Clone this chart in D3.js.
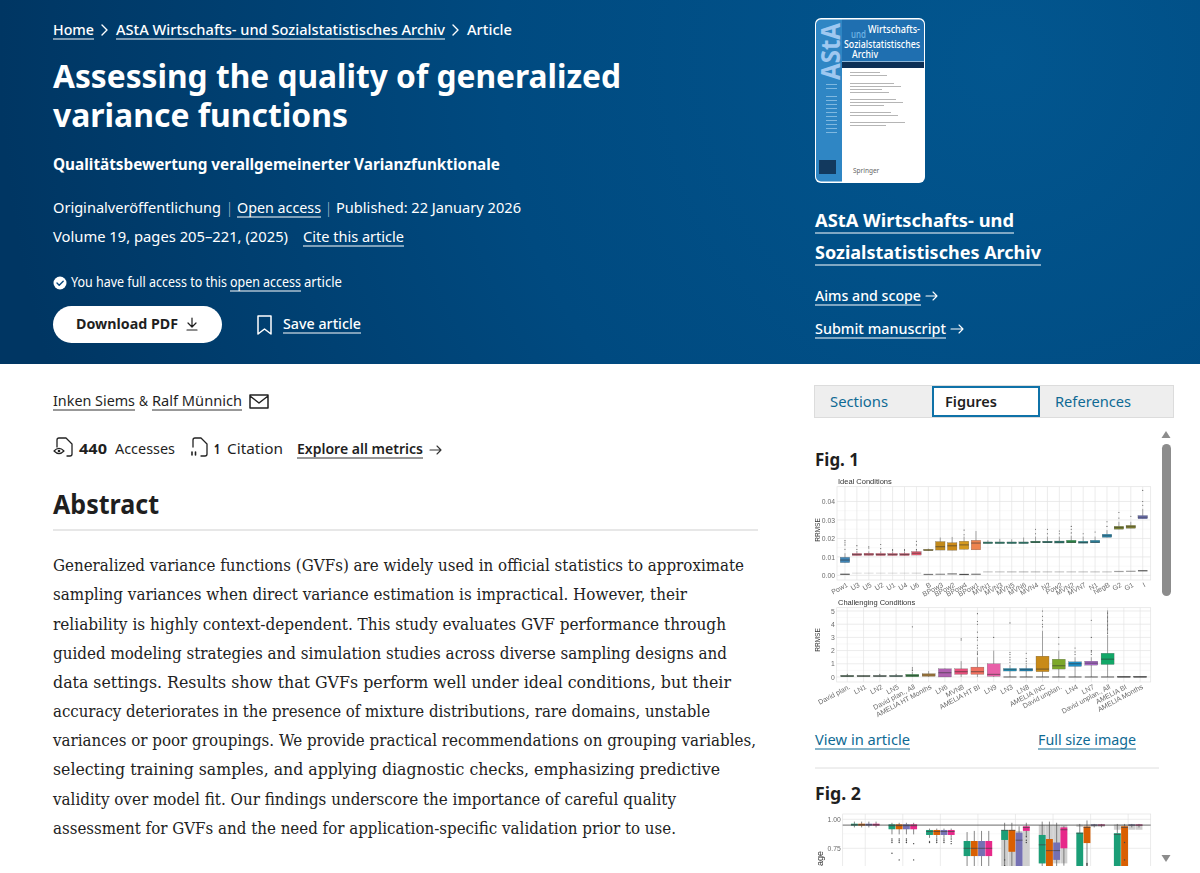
<!DOCTYPE html>
<html>
<head>
<meta charset="utf-8">
<script src="https://cdn.jsdelivr.net/npm/d3@7"></script>
<style>
  html, body { margin: 0; padding: 0; background: #fff; overflow: hidden; }
  svg { display: block; }
  .sans { font-family: "Noto Sans", "Open Sans", sans-serif; }
  .serif { font-family: "DejaVu Serif", "Liberation Serif", serif; }
  .plot text { font-family: "Liberation Sans", Arial, sans-serif; }
  .plot { filter: blur(0.35px); }
</style>
</head>
<body>
<script>
// Fig. 1 top panel
let idealCats = ['Pow1','U3','U5','U2','U1','U4','U6','B','BPow3','BPow2','BPow4','BPow1','MVN1','MVN3','MVN5','MVN6','MVN4','N2','Pow2','MVN2','MVN7','N1','NegB','G2','G1','I']
let idealQ1  = [.0069,.0107,.0108,.0107,.0107,.0107,.011,.0134,.0137,.0136,.0141,.0138,.0172,.0172,.0172,.0172,.0176,.0176,.0175,.0176,.0174,.0176,.0206,.025,.0255,.0306]
let idealMed = [.0083,.0113,.0114,.0113,.0113,.0113,.012,.0137,.0155,.016,.0165,.0175,.0176,.0176,.0176,.0176,.018,.018,.018,.018,.0178,.018,.0214,.0258,.0263,.0315]
let idealQ3  = [.0098,.0119,.012,.0119,.0119,.0119,.0129,.0141,.0183,.0177,.0185,.019,.0181,.0181,.0181,.0181,.0185,.0185,.0186,.019,.0185,.019,.0223,.0266,.0271,.0324]
let idealHi  = [.012,.0132,.013,.013,.013,.013,.014,.0145,.0205,.0208,.021,.024,.019,.0198,.0195,.0205,.021,.021,.021,.0215,.021,.021,.0245,.029,.029,.036]
let idealOut = [[.0141,.0165,.0177,.0188],[.014,.0161],[.0148,.0155],[.0145,.0167],[.0135,.014],[.0135,.014],[.014,.0165,.0185],[],[],[],[.022,.0245],[],[],[],[],[],[.0225,.025],[.0225,.025],[.0225,.024],[.023,.025,.0265],[.0225],[.0235],[.0265,.029],[.031,.034],[.032],[.038,.04,.046]]
let idealLow = [.0006,.0012,.0012,.0012,.0012,.0012,.0012,.0005,.0006,.0008,.0005,.0006,.0019,.0019,.0019,.0019,.0019,.0019,.0019,.0019,.0019,.0019,.0019,.0021,.0022,.0025]
let idealLowStrong = [.9,.15,.15,.15,.15,.15,.2,.7,.6,.7,.95,.7,.3,.3,.35,.35,.35,.3,.3,.3,.3,.3,.3,.5,.5,.9]
let idealColors = ['#3f86b8','#e0607c','#e55f78','#e65a74','#e6607a','#e55f78','#ea5a72','#a88f1e','#c28a1c','#cc8a18','#d59a1e','#ee8450','#2f9a80','#2f9a80','#2a9682','#2a9682','#1b8054','#1b7f70','#2a8a7c','#27954a','#2296a0','#2a90b0','#2a8fb8','#7f8a2e','#8a8a30','#6e72ba']
let idealTicks = [0, .01, .02, .03, .04]

// Fig. 1 bottom panel
let hardCats = ['David plan.','LN1','LN2','LN5','David plan., All','AMELIA HT Months','LN6','MVN8','AMELIA HT BI','LN9','LN3','LN8','AMELIA INC','David unplan.','LN4','LN7','David unplan., All','AMELIA BI','AMELIA Months']
let hardQ1  = [.02,.02,.02,.02,.02,.05,0,.2,.2,.05,.45,.45,.4,.6,.8,.9,.95,0,0]
let hardMed = [.07,.07,.07,.07,.1,.15,.32,.4,.4,.2,.55,.55,.6,.85,1,1.05,1.35,.01,.01]
let hardQ3  = [.12,.12,.12,.12,.2,.25,.62,.62,.75,1,.65,.65,1.58,1.35,1.15,1.2,1.8,.02,.02]
let hardHi  = [.15,.13,.15,.15,.4,.45,.65,1.2,1.5,2,.9,.9,3.5,2,1.5,1.5,3.2,.03,.03]
let hardLo  = [0,0,0,0,0,0,0,0,0,0,0,0,0,0,0,0,0,0,0]
let hardOut = [[.2],[],[.2],[.2],[.5,.6,.7,3.8],[],[],[2.8,2.9],[1.7,1.8,1.9,2.2,2.4,2.8,3,3.4,4,4.2,4.8],[3],[1.1,1.3,1.5,1.7,1.85,4.1],[1,1.2,1.4,1.8],[3.8,4,4.3,4.6,5],[2.5,3],[1.7,1.9,2.2],[1.7,1.9,2,3,4.3],[3.3,3.4,3.5,3.6,3.7,3.8,3.9,4,4.1,4.2,4.3,4.4,4.5,4.6,4.7,4.8,4.9,5],[],[]]
let hardZero = [0,0,0,0,0,0,0,0,0,0,1,1,1,1,1,1,1,1,1]
let hardColors = ['#3f6b4a','#5a7a62','#5a7a6a','#4f8070','#2f8a40','#b8863a','#b060b0','#e8507c','#f07060','#e860a8','#1f9cc8','#1f8cc0','#c88a18','#7ca82a','#1f90c8','#a868c8','#12a868','#888888','#888888']
let hardTicks = [0, 1, 2, 3, 4, 5]

// Fig. 2, eight groups of four series, cut off by the scroll box
let covGroups = ['g1','g2','g3','g4','g5','g6','g7','g8']
let covSeries = ['a','b','c','d']
let covQ1 = [[.945,.945,.945,.945],[.914,.914,.914,.914],[.865,.865,.865,.865],[.683,.683,.683,.683],[.822,.72,.5,.9],[.62,.55,.65,.75],[.5,.795,.945,.945],[.5,.5,.945,.945]]
let covMed = [[.953,.953,.953,.953],[.945,.945,.945,.945],[.895,.895,.895,.895],[.75,.75,.75,.75],[.905,.905,.82,.93],[.78,.73,.73,.91],[.88,.93,.95,.95],[.87,.93,.95,.95]]
let covQ3 = [[.962,.962,.962,.962],[.957,.957,.957,.957],[.908,.908,.908,.908],[.813,.813,.813,.813],[.908,.908,.885,.94],[.865,.83,.8,.93],[.885,.937,.955,.955],[.88,.94,.955,.955]]
let covLo = [[.93,.93,.93,.93],[.87,.87,.87,.87],[.84,.84,.84,.84],[.55,.55,.55,.55],[.55,.55,.5,.85],[.55,.5,.55,.6],[.5,.6,.93,.93],[.5,.5,.93,.93]]
let covHi = [[.98,.98,.98,.98],[.97,.97,.97,.97],[.92,.92,.92,.92],[.89,.9,.9,.9],[.97,.97,.94,.97],[.98,.98,.97,.94],[.96,.99,.96,.96],[.96,.96,.96,.96]]
let covOut = [
  [[],[],[],[]],
  [[.707,.8,.815,.83],[.65,.8,.815,.83],[.8,.815,.83],[.65,.79]],
  [[.8,.81],[.8,.815,.83],[.8,.815,.83],[.79,.81,.83]],
  [[],[],[],[]],
  [[.6,.65],[],[],[.8,.82,.85]],
  [[],[],[],[]],
  [[],[.6,.61,.62],[],[]],
  [[],[.65,.8],[],[]]
]
let covGrayQ1 = [null,null,null,null,[.55,.55,.55,.55],[.62,.62,.62,.62],[.935,.935,.935,.935],[.91,.91,.91,.91]]
let covGrayQ3 = [null,null,null,null,[.9,.9,.9,.9],[.95,.95,.95,.95],[.955,.955,.955,.955],[.955,.955,.955,.955]]
let covColors = ['#1b9e77','#d95f02','#7570b3','#e7298a']
let covTicks = [.75, 1]

// page text: string, x, baseline, right end, style
let headerLines = [
  ['Home', 53, 35, 94, 'crumb'],
  ['AStA Wirtschafts- und Sozialstatistisches Archiv', 116, 35, 445, 'crumb'],
  ['Article', 467, 35, 512, 'crumb'],
  ['Assessing the quality of generalized', 53, 88, 621, 'title'],
  ['variance functions', 53, 127, 348, 'title'],
  ['Qualitätsbewertung verallgemeinerter Varianzfunktionale', 53, 170, 500, 'sub'],
  ['Originalveröffentlichung', 53, 213, 221, 'meta'],
  ['|', 228, 213, 231, 'meta'],
  ['Open access', 237, 213, 321, 'meta'],
  ['|', 327, 213, 330, 'meta'],
  ['Published: 22 January 2026', 336, 213, 521, 'meta'],
  ['Volume 19, pages 205–221, (2025)', 53, 242, 288, 'meta'],
  ['Cite this article', 303, 242, 404, 'meta'],
  ['You have full access to this', 71, 287, 227, 'small'],
  ['open access', 230, 287, 301, 'small'],
  ['article', 304, 287, 342, 'small'],
  ['Save article', 283, 329, 361, 'crumb'],
  ['AStA Wirtschafts- und', 815, 227, 1014, 'journal'],
  ['Sozialstatistisches Archiv', 815, 259, 1041, 'journal'],
  ['Aims and scope', 815, 301, 921, 'crumb'],
  ['Submit manuscript', 815, 334, 946, 'crumb']
]
let headerUnderlines = [[53,94,39],[116,445,39],[237,321,217],[303,404,246],[230,301,291],[283,361,333],[815,1014,233],[815,1041,265],[815,921,305],[815,946,338]]
let darkLines = [
  ['Download PDF', 76, 329, 178, 'button'],
  ['Inken Siems', 53, 406, 135, 'meta'],
  ['&', 139, 406, 148, 'meta'],
  ['Ralf Münnich', 152, 406, 242, 'meta'],
  ['440', 79, 454, 107, 'strong'],
  ['Accesses', 115, 454, 175, 'meta'],
  ['1', 214, 454, 220, 'strong'],
  ['Citation', 227, 454, 283, 'meta'],
  ['Explore all metrics', 297, 454, 423, 'strongish'],
  ['Abstract', 53, 514, 159, 'h2'],
  ['Fig. 1', 815, 466, 859, 'fig'],
  ['Fig. 2', 815, 800, 861, 'fig']
]
let darkUnderlines = [[53,135,410],[152,242,410],[297,423,458]]
let linkLines = [
  ['View in article', 815, 745, 910, 'meta'],
  ['Full size image', 1038, 745, 1136, 'meta']
]
let linkUnderlines = [[815,910,749],[1038,1136,749]]
let tabLines = [
  ['Sections', 830, 407, 888, 'meta', '#0f6a94'],
  ['Figures', 945, 407, 997, 'strongish', '#1f1f1f'],
  ['References', 1055, 407, 1131, 'meta', '#0f6a94']
]
let abstractLines = [
  ['Generalized variance functions (GVFs) are widely used in official statistics to approximate', 744, 571],
  ['sampling variances when direct variance estimation is impractical. However, their', 687, 600],
  ['reliability is highly context-dependent. This study evaluates GVF performance through', 726, 630],
  ['guided modeling strategies and simulation studies across diverse sampling designs and', 727, 659],
  ['data settings. Results show that GVFs perform well under ideal conditions, but their', 731, 688],
  ['accuracy deteriorates in the presence of mixture distributions, rare domains, unstable', 710, 717],
  ['variances or poor groupings. We provide practical recommendations on grouping variables,', 756, 746],
  ['selecting training samples, and applying diagnostic checks, emphasizing predictive', 720, 775],
  ['validity over model fit. Our findings underscore the importance of careful quality', 676, 805],
  ['assessment for GVFs and the need for application-specific validation prior to use.', 676, 834]
]
let textStyles = {
  crumb: [15, 500], title: [33, 700], sub: [16, 700], meta: [15, 400], small: [13.5, 400],
  journal: [18, 700], button: [15, 700], strong: [15, 700], strongish: [15, 600], h2: [26, 700], fig: [18, 700]
}

let svg = d3.select('body').append('svg')
  .attr('width', 1200)
  .attr('height', 873)

let defs = svg.append('defs')
let grad = defs.append('radialGradient')
  .attr('id', 'headerFill')
  .attr('gradientUnits', 'userSpaceOnUse')
  .attr('cx', 1000).attr('cy', 60).attr('r', 1000)
grad.append('stop').attr('offset', 0).attr('stop-color', '#02568f')
grad.append('stop').attr('offset', .5).attr('stop-color', '#004a80')
grad.append('stop').attr('offset', 1).attr('stop-color', '#003663')

defs.append('clipPath').attr('id', 'scrollClip').append('rect')
  .attr('x', 805).attr('y', 428).attr('width', 355).attr('height', 438)

svg.append('rect').attr('width', 1200).attr('height', 364).attr('fill', 'url(#headerFill)')

function writeLine(parent, row, color) {
  let st = textStyles[row[4]]
  parent.append('text')
    .attr('class', 'sans')
    .attr('x', row[1])
    .attr('y', row[2])
    .attr('fill', color)
    .attr('font-size', st[0])
    .attr('font-weight', st[1])
    .attr('textLength', row[3] - row[1])
    .attr('lengthAdjust', 'spacingAndGlyphs')
    .text(row[0])
}

function underline(parent, rows, color) {
  rows.forEach(r => {
    parent.append('line')
      .attr('x1', r[0]).attr('x2', r[1])
      .attr('y1', r[2]).attr('y2', r[2])
      .attr('stroke', color).attr('stroke-width', 1)
  })
}

function icon(d, color, width) {
  svg.append('path')
    .attr('d', d)
    .attr('fill', 'none')
    .attr('stroke', color)
    .attr('stroke-width', width || 1.4)
    .attr('stroke-linecap', 'round')
    .attr('stroke-linejoin', 'round')
}

// white pill goes under its label
svg.append('rect')
  .attr('x', 53).attr('y', 306).attr('width', 169).attr('height', 37)
  .attr('rx', 18.5).attr('fill', '#fff')

headerLines.forEach(r => writeLine(svg, r, '#fff'))
underline(svg, headerUnderlines, '#fff')
darkLines.forEach(r => writeLine(svg, r, '#1f1f1f'))
underline(svg, darkUnderlines, '#333')
linkLines.forEach(r => writeLine(svg, r, '#0f6a94'))
underline(svg, linkUnderlines, '#0f6a94')

abstractLines.forEach(r => {
  svg.append('text')
    .attr('class', 'serif')
    .attr('x', 53)
    .attr('y', r[2])
    .attr('fill', '#222')
    .attr('font-size', 16)
    .attr('textLength', r[1] - 53)
    .attr('lengthAdjust', 'spacingAndGlyphs')
    .text(r[0])
})

svg.append('line').attr('x1', 53).attr('x2', 758).attr('y1', 530).attr('y2', 530).attr('stroke', '#cfcfcf')

// breadcrumbs, arrows and small icons
icon('M102 25l5 5l-5 5', '#fff')
icon('M453 25l5 5l-5 5', '#fff')
icon('M926 296h11M933 292l4 4l-4 4', '#fff', 1.1)
icon('M951 329h12M959 325l4 4l-4 4', '#fff', 1.1)
icon('M430 450h11M437 446l4 4l-4 4', '#333', 1.1)
icon('M192 318v9M188 323l4 4l4 -4M187 330h10', '#1f1f1f', 1.2)
icon('M258 316h13v18l-6.5 -5l-6.5 5z', '#fff', 1.5)
svg.append('circle').attr('cx', 60).attr('cy', 283).attr('r', 6.5).attr('fill', '#fff')
icon('M57 283l2.2 2.2l4 -4', '#0a4a80', 1.4)
icon('M250 395h18v13h-18zM250 396l9 7l9 -7', '#222', 1.5)
icon('M57 447v-7a2 2 0 0 1 2 -2h7l6 6v10a2 2 0 0 1 -2 2h-3', '#222', 1.3)
icon('M54 451q5 -5 10 0q-5 5 -10 0z', '#222', 1.2)
svg.append('circle').attr('cx', 59).attr('cy', 451).attr('r', 1.3).attr('fill', '#222')
icon('M193 447v-7a2 2 0 0 1 2 -2h6l6 6v10a2 2 0 0 1 -2 2h-4', '#222', 1.3)
icon('M192 452v3M195.500 452v3', '#222', 1.6)

// tabs
svg.append('rect').attr('x', 814.5).attr('y', 385.5).attr('width', 359).attr('height', 32)
  .attr('fill', '#eeeeee').attr('stroke', '#dcdcdc')
svg.append('rect').attr('x', 933).attr('y', 387).attr('width', 106).attr('height', 29)
  .attr('fill', '#fff').attr('stroke', '#0f72a8').attr('stroke-width', 2)
tabLines.forEach(r => writeLine(svg, r, r[5]))

// figure list divider and scrollbar
svg.append('line').attr('x1', 815).attr('x2', 1159).attr('y1', 768).attr('y2', 768).attr('stroke', '#dedede')
svg.append('rect').attr('x', 1162).attr('y', 444).attr('width', 9).attr('height', 152).attr('rx', 4.5).attr('fill', '#8c8c8c')
svg.append('path').attr('d', 'M1161.500 438l4.500 -7l4.500 7z').attr('fill', '#8c8c8c')
svg.append('path').attr('d', 'M1161.500 855l4.500 7l4.500 -7z').attr('fill', '#8c8c8c')

// journal cover
let cover = svg.append('g').attr('class', 'cover')
cover.append('rect').attr('x', 815).attr('y', 18).attr('width', 110).attr('height', 165).attr('rx', 6).attr('fill', '#fff')
cover.append('path').attr('d', 'M842 19.500h77a5 5 0 0 1 5 5v37h-82z').attr('fill', '#1f6fb0')
cover.append('path').attr('d', 'M842 19.500v162h-21a5 5 0 0 1 -5 -5v-152a5 5 0 0 1 5 -5z').attr('fill', '#2f86c4')
cover.append('rect').attr('x', 842).attr('y', 62).attr('width', 82).attr('height', 6).attr('fill', '#0c2f55')
cover.append('text').attr('class', 'sans')
  .attr('transform', 'translate(840,80) rotate(-90)')
  .attr('fill', '#9fc8f0').attr('font-size', 27).attr('font-weight', 700)
  .attr('textLength', 57).attr('lengthAdjust', 'spacingAndGlyphs').text('AStA')
let coverTitle = [['Wirtschafts-', 868, 920, 33, '#fff'], ['und', 851, 866, 38, '#6fb6e6'], ['Sozialstatistisches', 844, 920, 48, '#fff'], ['Archiv', 852, 878, 58, '#fff']]
coverTitle.forEach(r => {
  cover.append('text').attr('class', 'sans').attr('x', r[1]).attr('y', r[3]).attr('fill', r[4])
    .attr('font-size', 10).attr('font-weight', 500)
    .attr('textLength', r[2] - r[1]).attr('lengthAdjust', 'spacingAndGlyphs').text(r[0])
})
let coverRows = [72, 75, 83, 86, 89, 92, 99, 102, 105, 112, 115, 122, 125]
cover.selectAll('rect.row').data(coverRows).enter().append('rect').attr('class', 'row')
  .attr('x', 850).attr('y', d => d).attr('width', (d, i) => 30 + (i * 7) % 26).attr('height', 1).attr('fill', '#b5b5b5')
let coverSideRows = [84, 88, 96, 100, 104, 108, 112, 116, 120, 124, 128, 132]
cover.selectAll('rect.side').data(coverSideRows).enter().append('rect').attr('class', 'side')
  .attr('x', 826).attr('y', d => d).attr('width', 11).attr('height', 1).attr('fill', '#7fb8e0')
cover.append('text').attr('class', 'sans').attr('x', 853).attr('y', 173).attr('fill', '#666').attr('font-size', 6.5).text('Springer')
cover.append('rect').attr('x', 819).attr('y', 160).attr('width', 17).attr('height', 14).attr('fill', '#12395e')

// figures sit inside the scroll box
let figures = svg.append('g').attr('class', 'plot').attr('clip-path', 'url(#scrollClip)')

function panelFrame(x, y, xTickVals, yTicks, yFormat, labels) {
  let left = x.range()[0], right = x.range()[1]
  let top = y.range()[1], bottom = y.range()[0]
  let g = figures.append('g')

  g.append('rect').attr('x', left).attr('y', top).attr('width', right - left).attr('height', bottom - top)
    .attr('fill', '#fff')

  let minor = yTicks.slice(1).map((t, i) => (t + yTicks[i]) / 2)
  g.selectAll('.minor').data(minor).enter().append('line').attr('class', 'minor')
    .attr('x1', left).attr('x2', right)
    .attr('y1', d => y(d)).attr('y2', d => y(d))
    .attr('stroke', '#f0f0f0').attr('stroke-width', .4)
  g.selectAll('.major').data(yTicks).enter().append('line').attr('class', 'major')
    .attr('x1', left).attr('x2', right)
    .attr('y1', d => y(d)).attr('y2', d => y(d))
    .attr('stroke', '#e4e4e4').attr('stroke-width', .7)
  g.selectAll('.vert').data(xTickVals).enter().append('line').attr('class', 'vert')
    .attr('x1', d => x(d) + x.bandwidth() / 2).attr('x2', d => x(d) + x.bandwidth() / 2)
    .attr('y1', top).attr('y2', bottom)
    .attr('stroke', '#e4e4e4').attr('stroke-width', .7)

  let yAxis = g.append('g')
    .attr('transform', `translate(${left},0)`)
    .call(d3.axisLeft(y).tickValues(yTicks).tickFormat(yFormat).tickSize(0).tickPadding(2))
  yAxis.select('.domain').remove()
  yAxis.selectAll('text').attr('fill', '#6b6b6b').attr('font-size', 6.8)

  if (labels) {
    let xAxis = g.append('g')
      .attr('transform', `translate(0,${bottom})`)
      .call(d3.axisBottom(x).tickSize(0).tickPadding(3))
    xAxis.select('.domain').remove()
    xAxis.selectAll('text')
      .attr('fill', '#6b6b6b')
      .attr('font-size', 7)
      .attr('text-anchor', 'end')
      .attr('dy', '0.6em')
      .attr('transform', 'rotate(-28)')
  }

  g.append('rect').attr('x', left).attr('y', top).attr('width', right - left).attr('height', bottom - top)
    .attr('fill', 'none').attr('stroke', '#e2e2e2').attr('stroke-width', .7)
  return g
}

function drawBoxes(g, cats, x, y, q1, med, q3, lo, hi, out, colors) {
  let w = x.bandwidth()
  let box = g.selectAll('.box').data(cats).enter().append('g').attr('class', 'box')
    .attr('transform', d => `translate(${x(d)},0)`)

  box.append('line')
    .attr('x1', w / 2).attr('x2', w / 2)
    .attr('y1', (d, i) => y(lo[i])).attr('y2', (d, i) => y(hi[i]))
    .attr('stroke', '#555').attr('stroke-width', .5)
  box.append('rect')
    .attr('width', w)
    .attr('y', (d, i) => y(q3[i]))
    .attr('height', (d, i) => y(q1[i]) - y(q3[i]))
    .attr('fill', (d, i) => colors[i])
    .attr('stroke', '#555').attr('stroke-width', .25)
  box.append('line')
    .attr('x1', 0).attr('x2', w)
    .attr('y1', (d, i) => y(med[i])).attr('y2', (d, i) => y(med[i]))
    .attr('stroke', '#333').attr('stroke-width', .6)
  box.each(function(d, i) {
    d3.select(this).selectAll('circle').data(out[i]).enter().append('circle')
      .attr('cx', w / 2).attr('cy', v => y(v)).attr('r', .55).attr('fill', '#555')
  })
}

// top panel
let idealX = d3.scaleBand().domain(idealCats).range([837, 1150.7]).paddingInner(.2).paddingOuter(.27)
let idealY = d3.scaleLinear().domain([-.0025, .048]).range([580, 486.7])
let idealG = panelFrame(idealX, idealY, idealCats, idealTicks, d3.format('.2f'), true)
idealG.selectAll('.low').data(idealCats).enter().append('rect').attr('class', 'low')
  .attr('x', d => idealX(d))
  .attr('width', idealX.bandwidth())
  .attr('y', (d, i) => idealY(idealLow[i]) - .6)
  .attr('height', 1.2)
  .attr('fill', '#444')
  .attr('opacity', (d, i) => idealLowStrong[i])
drawBoxes(idealG, idealCats, idealX, idealY, idealQ1, idealMed, idealQ3, idealQ1, idealHi, idealOut, idealColors)

// bottom panel
let hardX = d3.scaleBand().domain(hardCats).range([836.7, 1150.7]).paddingInner(.2).paddingOuter(.25)
let hardY = d3.scaleLinear().domain([-.38, 5.25]).range([682, 607.7])
let hardG = panelFrame(hardX, hardY, hardCats, hardTicks, d3.format('d'), true)
drawBoxes(hardG, hardCats, hardX, hardY, hardQ1, hardMed, hardQ3, hardLo, hardHi, hardOut, hardColors)
hardG.selectAll('.zero').data(hardCats.filter((d, i) => hardZero[i])).enter().append('line').attr('class', 'zero')
  .attr('x1', d => hardX(d)).attr('x2', d => hardX(d) + hardX.bandwidth())
  .attr('y1', hardY(0)).attr('y2', hardY(0))
  .attr('stroke', '#444').attr('stroke-width', .9)

let plotTitles = [['Ideal Conditions', 838, 484], ['Challenging Conditions', 838, 605]]
plotTitles.forEach(r => {
  figures.append('text').attr('x', r[1]).attr('y', r[2]).attr('fill', '#333').attr('font-size', 7.5).text(r[0])
})
let yTitles = [['RRMSE', 820, 530], ['RRMSE', 820, 640]]
yTitles.forEach(r => {
  figures.append('text').attr('transform', `translate(${r[1]},${r[2]}) rotate(-90)`)
    .attr('text-anchor', 'middle').attr('fill', '#333').attr('font-size', 6.5).text(r[0])
})

// Fig. 2
let covX = d3.scaleBand().domain(covGroups).range([842.7, 1150.7]).paddingInner(0).paddingOuter(.1)
let covInner = d3.scaleBand().domain(covSeries).range([0, covX.bandwidth() * .76]).paddingInner(.05)
let covY = d3.scaleLinear().domain([.5, 1.0457]).range([877.3, 814])
panelFrameCov()

function panelFrameCov() {
  let g = panelFrame(covX, covY, covGroups, covTicks, d3.format('.2f'), false)
  let inset = covX.bandwidth() * .12
  let groups = g.selectAll('.covGroup').data(covGroups).enter().append('g').attr('class', 'covGroup')
    .attr('transform', d => `translate(${covX(d) + inset},0)`)
  groups.each(function(group, gi) {
    let sel = d3.select(this)
    if (covGrayQ1[gi]) {
      sel.selectAll('.gray').data(covSeries).enter().append('rect').attr('class', 'gray')
        .attr('x', d => covInner(d)).attr('width', covInner.bandwidth())
        .attr('y', (d, i) => covY(covGrayQ3[gi][i]))
        .attr('height', (d, i) => covY(covGrayQ1[gi][i]) - covY(covGrayQ3[gi][i]))
        .attr('fill', '#cfcfcf')
    }
    sel.selectAll('.whisk').data(covSeries).enter().append('line').attr('class', 'whisk')
      .attr('x1', d => covInner(d) + covInner.bandwidth() / 2)
      .attr('x2', d => covInner(d) + covInner.bandwidth() / 2)
      .attr('y1', (d, i) => covY(covLo[gi][i]))
      .attr('y2', (d, i) => covY(covHi[gi][i]))
      .attr('stroke', '#555').attr('stroke-width', .7)
    sel.selectAll('.cbox').data(covSeries).enter().append('rect').attr('class', 'cbox')
      .attr('x', d => covInner(d)).attr('width', covInner.bandwidth())
      .attr('y', (d, i) => covY(covQ3[gi][i]))
      .attr('height', (d, i) => covY(covQ1[gi][i]) - covY(covQ3[gi][i]))
      .attr('fill', (d, i) => covColors[i])
    sel.selectAll('.cmed').data(covSeries).enter().append('line').attr('class', 'cmed')
      .attr('x1', d => covInner(d)).attr('x2', d => covInner(d) + covInner.bandwidth())
      .attr('y1', (d, i) => covY(covMed[gi][i])).attr('y2', (d, i) => covY(covMed[gi][i]))
      .attr('stroke', '#444').attr('stroke-width', .7)
    covSeries.forEach((s, si) => {
      sel.selectAll('.cout' + si).data(covOut[gi][si]).enter().append('circle').attr('class', 'cout' + si)
        .attr('cx', covInner(s) + covInner.bandwidth() / 2)
        .attr('cy', d => covY(d))
        .attr('r', .7)
        .attr('fill', '#444')
    })
  })
  g.append('line')
    .attr('x1', covX.range()[0]).attr('x2', covX.range()[1])
    .attr('y1', covY(.95)).attr('y2', covY(.95))
    .attr('stroke', '#444').attr('stroke-width', .8)
}
// only the tail of this axis title is visible above the scroll edge
figures.append('text').attr('transform', 'translate(823,866) rotate(-90)')
  .attr('fill', '#333').attr('font-size', 9).text('age')
</script>
</body>
</html>
